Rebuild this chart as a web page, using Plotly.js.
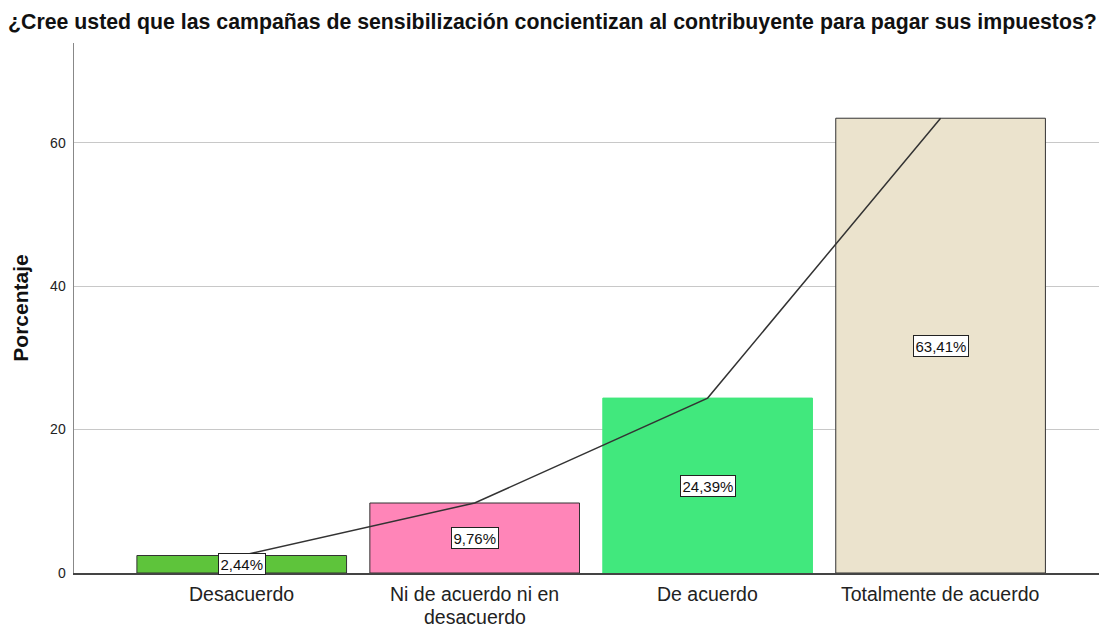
<!DOCTYPE html>
<html>
<head>
<meta charset="utf-8">
<script src="https://cdn.plot.ly/plotly-3.0.1.min.js"></script>
<style>html,body{margin:0;padding:0;background:#fff;}#chart{width:1105px;height:628px;}</style>
</head>
<body>
<div id="chart"></div>
<script>
const categories = ["Desacuerdo", "Ni de acuerdo ni en<br>desacuerdo", "De acuerdo", "Totalmente de acuerdo"];
const percentages = [2.44, 9.76, 24.39, 63.41];
const valueLabels = ["2,44%", "9,76%", "24,39%", "63,41%"];
const barColors = ["#5ec43b", "#ff85b8", "#41e87d", "#ebe3cd"];
const barOutlines = ["#333333", "#333333", "#41e87d", "#333333"];
const yTicks = [0, 20, 40, 60];

const xIdx = categories.map((c, i) => i);
const FONT = "Liberation Sans, Arial, sans-serif";

const bars = {
  type: "bar",
  x: xIdx,
  y: percentages,
  width: 0.9,
  marker: {color: barColors, line: {color: barOutlines, width: 1}},
  hoverinfo: "skip",
  showlegend: false
};
const line = {
  type: "scatter",
  mode: "lines",
  x: xIdx,
  y: percentages,
  line: {color: "#333333", width: 1.5},
  hoverinfo: "skip",
  showlegend: false
};

const annotations = percentages.map((v, i) => ({
  x: i, y: v / 2, xref: "x", yref: "y",
  text: valueLabels[i], showarrow: false,
  font: {family: FONT, size: 15, color: "#111"},
  bgcolor: "#ffffff", bordercolor: "#222222", borderwidth: 1, borderpad: 1.5
}));

// category labels as annotations (tighter line spacing than tick labels)
categories.forEach((c, i) => {
  c.split("<br>").forEach((part, k) => {
    annotations.push({
      x: i, y: 0, xref: "x", yref: "paper",
      text: part, showarrow: false,
      font: {family: FONT, size: 19.5, color: "#222"},
      borderpad: 0,
      yanchor: "middle", yshift: -21 - 22.5 * k
    });
  });
});

const layout = {
  width: 1105, height: 628,
  margin: {l: 74, r: 6, t: 43, b: 55},
  paper_bgcolor: "#ffffff", plot_bgcolor: "#ffffff",
  title: {
    text: "<b>¿Cree usted que las campañas de sensibilización concientizan al contribuyente para pagar sus impuestos?</b>",
    font: {family: FONT, size: 21.3, color: "#111"},
    x: 8 / 1105, xanchor: "left", xref: "container", y: 1 - 22 / 628, yref: "container", yanchor: "middle"
  },
  xaxis: {
    range: [-0.72, 3.68],
    tickvals: xIdx, showticklabels: false,
    showgrid: false, zeroline: false,
    showline: true, linecolor: "#444", linewidth: 1.5,
    ticks: "", automargin: false
  },
  yaxis: {
    range: [0, 73.9],
    tickvals: yTicks, ticktext: yTicks.map(String),
    tickfont: {family: FONT, size: 14, color: "#222"},
    showgrid: true, gridcolor: "#c8c8c8", gridwidth: 1,
    zeroline: false, showline: true, linecolor: "#888", linewidth: 1.5,
    ticks: "", automargin: false, ticklabelstandoff: 4,
    title: {text: "<b>Porcentaje</b>", font: {family: FONT, size: 21, color: "#111"}, standoff: 16}
  },
  annotations: annotations,
  bargap: 0.1
};

Plotly.newPlot("chart", [bars, line], layout, {displayModeBar: false, staticPlot: true});
</script>
</body>
</html>
